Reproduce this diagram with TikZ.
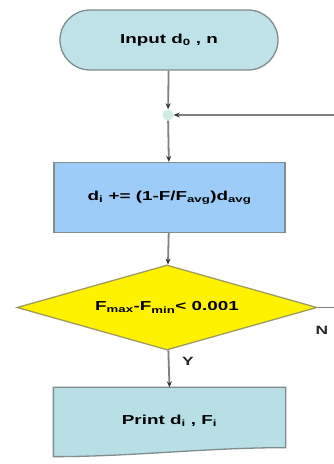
\documentclass[tikz,border=0pt]{standalone}
\usepackage{fontspec}
\newfontfamily\flowfont[FakeStretch=1.45]{Liberation Sans}
\usepackage{xcolor}
\usepackage{tikz}
\usetikzlibrary{arrows.meta, positioning, shapes.geometric, shapes.misc, backgrounds}
\definecolor{termfill}{RGB}{191,226,232}
\definecolor{procfill}{RGB}{158,204,248}
\definecolor{docfill}{RGB}{184,222,230}
\definecolor{joinfill}{RGB}{208,236,228}
\definecolor{edgegray}{RGB}{128,140,142}

\begin{document}
\begin{tikzpicture}[x=1pt, y=1pt,
    base/.style={draw=edgegray, line width=1.3pt, font=\flowfont\bfseries\fontsize{13}{15}\selectfont, inner sep=0pt},
    terminal/.style={base, rounded rectangle, fill=termfill, minimum width=218pt, minimum height=60pt},
    process/.style={base, rectangle, fill=procfill, minimum width=231pt, minimum height=70pt},
    decision/.style={base, diamond, aspect=3.5, fill=yellow, draw=black!40!yellow!70!gray, minimum width=300pt, minimum height=85pt},
    docbox/.style={base, draw=none, minimum width=231pt, minimum height=66pt},
    arrow/.style={-{Stealth[length=6pt, width=5pt, color=black!80]}, line width=1.8pt, black!50},
    label/.style={font=\flowfont\bfseries\fontsize{12}{14}\selectfont, text=black!85},
]
\useasboundingbox (0,0) rectangle (334,464);
\clip (0,0) rectangle (334,464);

\node[terminal] (start) at (169,424) {Input d\textsubscript{0} , n};
\node[circle, fill=joinfill, inner sep=0pt, minimum size=11pt] (join) at (168,349) {};
\node[process] (update) at (169.5,266.5) {d\textsubscript{i} += (1-F/F\textsubscript{avg})d\textsubscript{avg}};
\node[decision] (check) at (167,156.5) {F\textsubscript{max}-F\textsubscript{min}< 0.001};
\node[docbox] (print) at (169.5,43) {Print d\textsubscript{i} , F\textsubscript{i}};
\coordinate (loop) at (350,156.5);

\node[label] (yes) at (188,103) {Y};
\node[label] (no) at (322,134) {N};

% document shape with wavy bottom
\begin{scope}[on background layer]
\draw[draw=edgegray, line width=1.3pt, fill=docfill] (print.north west) -- (print.north east)
    -- ([yshift=7pt]print.south east) .. controls +(-80,0) and +(80,0) .. ([yshift=-2pt]print.south west) -- cycle;
\end{scope}

\draw[arrow] (start) -- (join);
\draw[arrow] (join) -- (update);
\draw[arrow] (update) -- (check);
\draw[arrow] (check) -- (print.north);
\draw[arrow] (check.east) -- (loop) |- (join);
\end{tikzpicture}
\end{document}
